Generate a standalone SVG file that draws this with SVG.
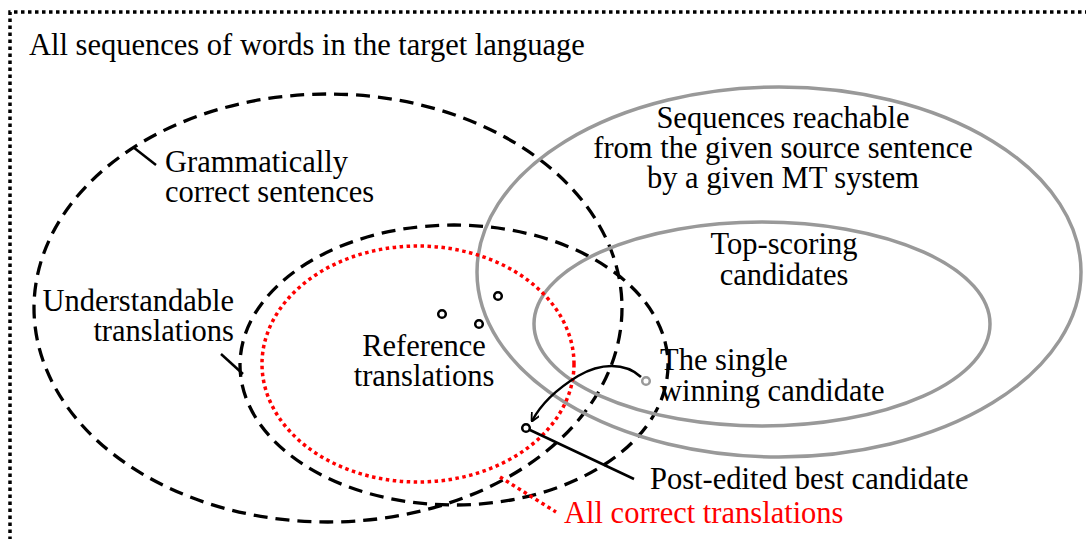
<svg xmlns="http://www.w3.org/2000/svg" width="1086" height="539" viewBox="0 0 1086 539">
<defs>
<style>
text{font-family:"Liberation Serif","Times New Roman",serif;font-size:30.5px;fill:#000}
.red{fill:#ff0000}
.dash{fill:none;stroke:#000;stroke-width:3.3;stroke-dasharray:14 8}
.gray{fill:none;stroke:#999;stroke-width:3.5}
.reddot{fill:none;stroke:#ff0000;stroke-width:3.5;stroke-dasharray:3.5 3.5}
.dot{fill:#fff;stroke:#000;stroke-width:2.5}
.ld{fill:none;stroke:#000;stroke-width:2.5}
</style>
<marker id="arr" viewBox="0 0 10 10" refX="9" refY="5" markerWidth="9" markerHeight="9" orient="auto" markerUnits="userSpaceOnUse">
<path d="M0,0 L10,5 L0,10" fill="none" stroke="#000" stroke-width="2"/>
</marker>
</defs>
<g id="frame">
<path d="M10,540 L10,12 L1090,12" fill="none" stroke="#000" stroke-width="3.5" stroke-dasharray="3.5 3.5"/>
<text x="29" y="55">All sequences of words in the target language</text>
</g>
<g id="grammatical">
<ellipse class="dash" cx="328" cy="308" rx="294" ry="214"/>
<text x="165" y="172">Grammatically</text>
<text x="165" y="202">correct sentences</text>
</g>
<g id="understandable">
<ellipse class="dash" cx="454" cy="365" rx="214" ry="140"/>
<text x="234" y="311" text-anchor="end">Understandable</text>
<text x="234" y="341" text-anchor="end">translations</text>
</g>
<g id="reachable">
<ellipse class="gray" cx="779" cy="272" rx="302" ry="185"/>
<text x="783" y="128" text-anchor="middle">Sequences reachable</text>
<text x="783" y="158" text-anchor="middle">from the given source sentence</text>
<text x="783" y="188" text-anchor="middle">by a given MT system</text>
</g>
<g id="topscoring">
<ellipse class="gray" cx="762" cy="324" rx="228" ry="102"/>
<text x="784" y="254" text-anchor="middle">Top-scoring</text>
<text x="784" y="285" text-anchor="middle">candidates</text>
</g>
<g id="correct">
<ellipse class="reddot" cx="418" cy="364" rx="156" ry="118"/>
<text class="red" x="564" y="523">All correct translations</text>
</g>
<g id="references">
<circle class="dot" cx="442" cy="314" r="3.8"/>
<circle class="dot" cx="498" cy="296" r="3.8"/>
<circle class="dot" cx="479" cy="324" r="3.8"/>
<text x="424" y="356" text-anchor="middle">Reference</text>
<text x="424" y="386" text-anchor="middle">translations</text>
</g>
<g id="winner">
<circle cx="646" cy="381" r="3.8" fill="#fff" stroke="#999" stroke-width="2.5"/>
<text x="660" y="370">The single</text>
<text x="660" y="401">winning candidate</text>
</g>
<g id="postedited">
<circle class="dot" cx="526" cy="428" r="3.8"/>
<text x="650" y="489">Post-edited best candidate</text>
</g>
<g id="connectors">
<line class="ld" x1="133" y1="147" x2="156" y2="165"/>
<line class="ld" x1="221" y1="354" x2="243" y2="374"/>
<path class="ld" d="M641,377 C625,362 600,363 578,376 C560,387 542,402 532,421" marker-end="url(#arr)"/>
<line class="ld" x1="530" y1="430" x2="634" y2="479"/>
<line x1="500" y1="477" x2="556" y2="512" stroke="#ff0000" stroke-width="3.5" stroke-dasharray="3.5 3.5"/>
</g>
</svg>
